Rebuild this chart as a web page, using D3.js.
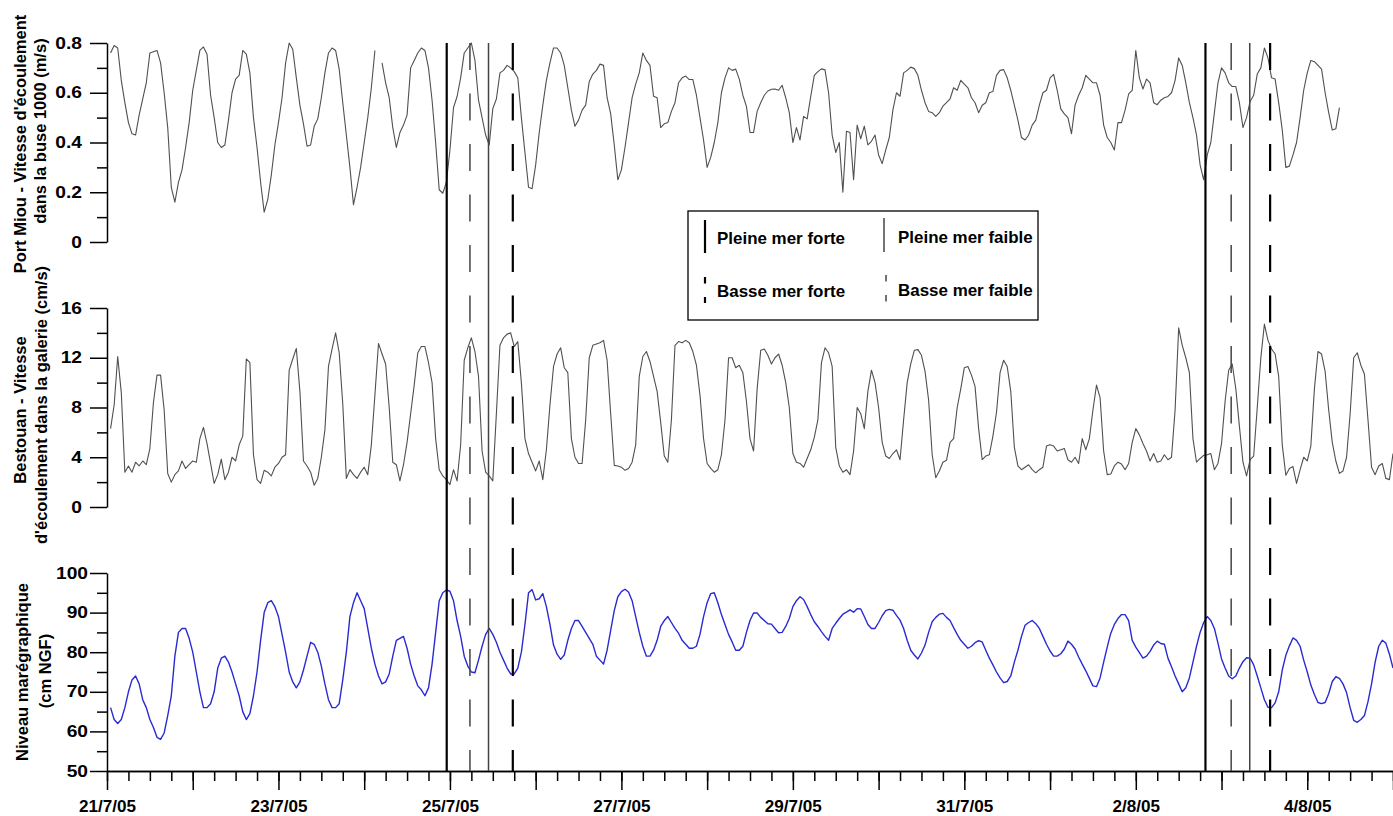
<!DOCTYPE html>
<html><head><meta charset="utf-8">
<script src="https://cdn.jsdelivr.net/npm/d3@7"></script>
<style>
html,body{margin:0;padding:0;background:#fff;}
svg{display:block;font-family:"Liberation Sans",Arial,sans-serif;}
</style></head><body>
<svg id="chart" width="1393" height="816"></svg>
<script>
// ---------- DATA (hourly samples starting 21/7/2005 01:00) ----------
const portMiou = [
0.76,0.79,0.78,0.65,0.56,0.48,0.435,0.43,0.51,0.575,
0.64,0.76,0.765,0.77,0.72,0.60,0.46,0.22,0.16,0.24,
0.29,0.38,0.48,0.61,0.69,0.77,0.784,0.755,0.59,0.50,
0.40,0.38,0.39,0.49,0.60,0.655,0.67,0.77,0.755,0.68,
0.50,0.38,0.24,0.12,0.17,0.27,0.39,0.48,0.58,0.72,
0.80,0.775,0.66,0.55,0.475,0.385,0.39,0.465,0.495,0.58,
0.68,0.76,0.78,0.77,0.695,0.56,0.43,0.30,0.15,0.22,
0.30,0.40,0.50,0.62,0.77,null,0.72,0.64,0.58,0.46,
0.38,0.44,0.47,0.51,0.70,0.73,0.76,0.78,0.77,0.70,
0.57,0.40,0.21,0.196,0.24,0.37,0.54,0.585,0.66,0.76,
0.78,0.80,0.73,0.57,0.50,0.43,0.39,0.536,0.575,0.68,
0.69,0.71,0.70,0.685,0.66,0.50,0.36,0.22,0.214,0.31,
0.44,0.55,0.65,0.72,0.78,0.78,0.76,0.71,0.62,0.53,
0.465,0.49,0.53,0.55,0.645,0.675,0.69,0.715,0.71,0.58,
0.515,0.39,0.25,0.29,0.38,0.48,0.58,0.635,0.68,0.76,
0.73,0.71,0.586,0.58,0.46,0.475,0.48,0.525,0.56,0.64,
0.66,0.667,0.653,0.653,0.59,0.50,0.41,0.30,0.34,0.40,
0.48,0.60,0.66,0.70,0.69,0.695,0.655,0.59,0.545,0.44,
0.44,0.525,0.56,0.59,0.607,0.614,0.615,0.61,0.63,0.58,
0.52,0.40,0.46,0.41,0.505,0.495,0.585,0.67,0.685,0.696,
0.692,0.60,0.43,0.36,0.40,0.20,0.445,0.44,0.25,0.47,
0.415,0.466,0.39,0.405,0.43,0.35,0.315,0.37,0.42,0.53,
0.60,0.586,0.68,0.69,0.703,0.697,0.67,0.61,0.56,0.525,
0.52,0.505,0.52,0.546,0.56,0.575,0.62,0.61,0.65,0.635,
0.62,0.58,0.56,0.52,0.55,0.56,0.60,0.605,0.67,0.69,
0.693,0.66,0.61,0.55,0.49,0.42,0.41,0.43,0.47,0.49,
0.55,0.60,0.61,0.66,0.674,0.61,0.535,0.515,0.50,0.435,
0.55,0.59,0.62,0.67,0.655,0.64,0.64,0.59,0.47,0.42,
0.40,0.37,0.48,0.48,0.53,0.595,0.61,0.77,0.66,0.615,
0.655,0.64,0.56,0.552,0.57,0.58,0.585,0.60,0.65,0.74,
0.71,0.64,0.56,0.50,0.43,0.31,0.25,0.35,0.40,0.52,
0.64,0.70,0.68,0.64,0.625,0.625,0.56,0.46,0.50,0.565,
0.59,0.675,0.70,0.78,0.74,0.66,0.655,0.56,0.45,0.30,
0.305,0.35,0.40,0.50,0.61,0.68,0.73,0.725,0.71,0.695,
0.60,0.52,0.45,0.455,0.54];

const bestouan = [
6.3,8.2,12.1,9.2,2.8,3.3,2.8,3.6,3.3,3.7,
3.4,4.7,8.4,10.6,10.6,7.8,2.7,2.0,2.6,2.9,
3.7,3.1,3.4,3.7,3.6,5.5,6.4,5.1,3.5,1.9,
2.6,3.85,2.2,2.8,4.0,3.7,5.0,5.7,11.9,11.6,
4.2,2.2,1.9,2.95,2.8,2.5,3.2,3.5,4.0,4.2,
11.0,11.9,12.75,9.3,3.7,3.3,2.8,1.75,2.3,4.0,
6.2,11.3,12.7,14.0,12.4,8.3,2.3,3.0,2.6,2.3,
2.8,3.2,2.6,5.0,9.0,13.15,12.3,11.5,8.0,3.6,
3.4,2.1,3.4,5.2,7.5,9.8,12.4,12.9,12.9,11.6,
10.0,5.5,3.0,2.5,2.2,1.8,3.0,2.1,5.0,11.8,
12.8,13.6,12.5,10.5,4.5,2.8,2.5,2.1,7.5,13.0,
13.6,13.9,14.0,12.9,13.3,10.0,5.5,4.3,3.6,2.9,
3.7,2.2,4.6,8.2,11.3,12.3,12.8,11.2,10.8,5.5,
4.0,3.5,3.5,7.0,12.0,13.0,13.1,13.2,13.4,11.8,
7.5,3.35,3.3,3.2,2.95,3.1,3.6,5.0,10.5,12.1,
12.5,11.7,10.5,9.3,6.8,4.1,3.6,7.0,13.0,13.3,
13.2,13.4,13.2,12.5,11.4,9.0,5.5,3.5,3.1,2.8,
3.0,4.2,7.0,12.0,12.0,11.2,11.4,10.8,8.5,5.5,
4.5,9.5,12.6,12.7,12.2,11.5,12.0,12.3,11.4,10.0,
8.0,4.3,3.6,3.5,3.2,3.9,4.6,5.6,7.0,11.6,
12.8,12.4,11.3,4.8,3.3,2.8,3.0,2.6,4.5,8.0,
7.5,6.3,9.3,11.0,10.0,8.0,5.2,4.1,3.9,4.3,
4.6,3.8,7.0,10.0,11.5,12.6,12.65,12.2,10.9,8.6,
4.2,2.35,2.9,3.6,3.75,5.2,5.5,8.0,9.5,11.2,
11.3,10.6,9.7,6.3,3.8,4.1,4.2,5.7,7.6,10.8,
11.8,11.3,9.3,4.8,3.3,3.0,3.2,3.4,3.0,2.75,
3.0,3.2,4.9,5.0,4.9,4.5,4.6,4.7,3.8,3.6,
4.0,3.5,5.5,4.6,5.5,7.8,9.8,8.8,4.5,2.6,
2.65,3.3,3.6,3.45,3.0,3.5,5.2,6.3,5.8,5.1,
4.5,3.7,4.3,3.6,3.7,4.2,3.8,4.0,7.8,14.4,
13.0,12.0,10.8,5.5,3.6,3.9,4.15,4.2,4.3,3.0,
3.5,5.1,8.5,11.0,11.5,9.5,6.5,3.6,2.5,3.8,
4.1,8.0,12.0,14.7,13.4,12.7,12.3,10.5,5.0,2.55,
3.1,3.25,1.9,3.0,4.0,3.7,4.9,9.5,12.5,12.3,
10.9,7.8,5.2,3.7,2.7,2.9,4.0,7.5,12.0,12.4,
11.4,10.7,7.0,3.2,2.6,3.3,3.5,2.3,2.2,4.3];

const niveau = [
66,63,62,63,66,70,73,74,72,68,
66,63,61,58.5,58,59.6,64,69,79,85,
86,86,83.5,80,75,70,66,66,67,70,
76,78.5,79,77.5,75,72,69,65,63,64.5,
69,75,83,90,92.5,93,91.5,89,84.5,80,
75,72.5,71,72.5,75.5,79,82.5,82,80,76.5,
72,68,66,66,67,73,80,89,92.5,95,
93,91,86,81,77,74,72,72.5,74.5,79,
83,83.5,84,81,77,74,71.5,70.5,69,71,
77,85,93,95,95.7,95.4,93,88,84,79,
76.5,75,74.8,78,81.5,84.5,86,84.5,82.5,80,
78,76,74.5,74.5,76,80,87,95,95.8,93.2,
93.5,94.8,91.5,87,81.8,79.5,78.2,79.3,83,86,
88,88,86.5,85,83.5,82,79,78,77,80.5,
85.5,90.5,94,95.3,95.9,95.2,93,89,85,81.5,
79,79,80.5,83,86.5,88,89,87.5,86,84.8,
83,82,81,81,81.5,84.5,89,92.5,94.8,95,
92.5,89.5,87,84.5,82.6,80.5,80.5,81.5,85,88,
89.9,89.9,88.8,88,87.2,87.1,86,84.9,85,86.5,
88.5,91.5,93,94,93.3,91.5,89.5,87.7,86.5,85.2,
84,83,86,87.3,88.5,89.6,90.1,90.7,90.1,91,
90.9,89,87,86,86,87.5,89.2,90.5,90.8,90.6,
89.3,88.1,86,83,80.5,79.3,78.3,79.8,81.8,85,
87.7,88.8,89.6,89.8,88.8,88,86.2,84.5,83,82,
81,81.5,82.4,82.9,82.6,80.5,78.5,76.8,75,73.5,
72.3,72.6,74,77.5,80.5,84,86.8,87.5,88,87.2,
86,84,82,80.3,79,79,79.6,80.8,82.8,82,
80.8,78.8,77,75.3,73.4,71.5,71.3,73.5,77.5,81.3,
84.8,87,88.5,89.5,89.5,88,83,81.3,79.9,78.5,
79,80.2,81.8,82.8,82.2,82,78.5,76.3,74,72,
70,71,73.5,77.5,81.5,85,87.5,89,88,86,
82.3,78.3,76,74,73.3,74,76,77.6,78.6,78.5,
76.8,74,71,68,66.1,66,67.2,70,75.5,79.2,
81.6,83.6,83,81.5,78,75,71.7,69.3,67.3,67,
67.3,69.5,72.6,73.8,73.4,72,69.8,66,62.8,62.3,
63,64,67.5,72,77.5,81.5,83,82.3,79.5,76];

const firstSample = new Date(2005, 6, 21, 1);
const xStart = new Date(2005, 6, 21, 0), xEnd = new Date(2005, 7, 5, 0);
const xLabelDates = [new Date(2005,6,21),new Date(2005,6,23),new Date(2005,6,25),new Date(2005,6,27),
  new Date(2005,6,29),new Date(2005,6,31),new Date(2005,7,2),new Date(2005,7,4)];

const topTicks = [0,0.2,0.4,0.6,0.8], topMinor = [0.1,0.3,0.5,0.7];
const midTicks = [0,4,8,12,16], midMinor = [2,6,10,14];
const botTicks = [50,60,70,80,90,100], botMinor = [55,65,75,85,95];

const eventTimes = [new Date(2005,6,24,23,6), new Date(2005,6,25,5,36), new Date(2005,6,25,10,48), new Date(2005,6,25,17,36),
  new Date(2005,7,2,19,30), new Date(2005,7,3,2,42), new Date(2005,7,3,7,54), new Date(2005,7,3,13,36)];
const eventTypes = ["PMforte","BMfaible","PMfaible","BMforte","PMforte","BMfaible","PMfaible","BMforte"];
const legendLabels = ["Pleine mer forte","Pleine mer faible","Basse mer forte","Basse mer faible"];
const legendTypes = ["PMforte","PMfaible","BMforte","BMfaible"];

// ---------- DRAWING ----------
const svg = d3.select("#chart");
const x = d3.scaleTime().domain([xStart, xEnd]).range([107, 1393]);
const yTop = d3.scaleLinear().domain([0, 0.8]).range([242, 43]);
const yMid = d3.scaleLinear().domain([0, 16]).range([507, 308]);
const yBot = d3.scaleLinear().domain([50, 100]).range([771, 573]);
const tAt = i => d3.timeHour.offset(firstSample, i);

const evStyle = {
  PMforte: {stroke:"#000", w:2.2, dash:null},
  PMfaible: {stroke:"#444", w:1.5, dash:null},
  BMforte: {stroke:"#000", w:2.2, dash:"27,23.5"},
  BMfaible: {stroke:"#444", w:1.5, dash:"27,23.5"}
};

// widen glyphs horizontally around their anchor point
function stretch(sel, s) {
  sel.each(function() {
    const t = d3.select(this);
    const tx = +t.attr("x") || 0, ty = +t.attr("y") || 0;
    t.attr("x", 0).attr("y", 0).attr("transform", `translate(${tx},${ty}) scale(${s},1)`);
  });
}

function yAxis(scale, major, minor, fmt, pad) {
  const gm = svg.append("g").attr("transform","translate(107,0)")
    .call(d3.axisLeft(scale).tickValues(minor).tickSize(10).tickSizeOuter(0).tickFormat(""));
  gm.select(".domain").remove();
  const g = svg.append("g").attr("transform","translate(107,0)")
    .call(d3.axisLeft(scale).tickValues(major).tickSize(17).tickSizeOuter(0).tickPadding(pad).tickFormat(fmt));
  [gm, g].forEach(s => {
    s.selectAll("line").attr("stroke","#000").attr("stroke-width",1.5);
    s.selectAll(".domain").attr("stroke","#000").attr("stroke-width",1.5);
    s.selectAll("text").attr("fill","#000").style("font-size","16px").style("font-weight","bold");
  });
  stretch(g.selectAll("text"), 1.2);
}
yAxis(yTop, topTicks, topMinor, d => d === 0 ? "0" : d3.format(".1f")(d), 8);
yAxis(yMid, midTicks, midMinor, d3.format("d"), 8);
yAxis(yBot, botTicks, botMinor, d3.format("d"), 2);

// x axis
const gx1 = svg.append("g").attr("transform","translate(0,771)")
  .call(d3.axisBottom(x).ticks(d3.timeHour.every(6)).tickSize(10).tickSizeOuter(0).tickFormat(""));
const gx2 = svg.append("g").attr("transform","translate(0,771)")
  .call(d3.axisBottom(x).ticks(d3.timeDay.every(1)).tickSize(19).tickSizeOuter(0).tickFormat(""));
const gx3 = svg.append("g").attr("transform","translate(0,771)")
  .call(d3.axisBottom(x).tickValues(xLabelDates).tickSize(0).tickSizeOuter(0).tickPadding(30).tickFormat(d3.timeFormat("%-d/%-m/%y")));
gx3.select(".domain").remove();
[gx1, gx2, gx3].forEach(s => {
  s.selectAll("line").attr("stroke","#000").attr("stroke-width",1.5);
  s.selectAll(".domain").attr("stroke","#000").attr("stroke-width",1.5);
  s.selectAll("text").attr("fill","#000").style("font-size","16px").style("font-weight","bold");
});
stretch(gx3.selectAll("text"), 1.07);

// series
function drawSeries(values, yScale, color, width) {
  const line = d3.line().defined(d => d != null).x((d,i) => x(tAt(i))).y(d => yScale(d));
  svg.append("path").datum(values).attr("d", line)
    .attr("fill","none").attr("stroke",color).attr("stroke-width",width).attr("stroke-linejoin","round");
}
drawSeries(portMiou, yTop, "#505050", 1.1);
drawSeries(bestouan, yMid, "#505050", 1.1);
drawSeries(niveau, yBot, "#2a2ad2", 1.4);

// tide event lines
svg.append("g").selectAll("line").data(eventTimes).join("line")
  .attr("x1", d => x(d)).attr("x2", d => x(d))
  .attr("y1", yTop.range()[1]).attr("y2", yBot.range()[0])
  .attr("stroke", (d,i) => evStyle[eventTypes[i]].stroke)
  .attr("stroke-width", (d,i) => evStyle[eventTypes[i]].w)
  .attr("stroke-dasharray", (d,i) => evStyle[eventTypes[i]].dash);

// legend
const lg = svg.append("g");
lg.append("rect").attr("x",688).attr("y",211).attr("width",350).attr("height",109)
  .attr("fill","#fff").attr("stroke","#000").attr("stroke-width",1.3);
const legPos = [{lx:705,tx:717,y0:220,y1:253,ty:244},{lx:884,tx:898,y0:218,y1:252,ty:243},
                {lx:705,tx:717,y0:277,y1:303,ty:297},{lx:886,tx:898,y0:275,y1:303,ty:296}];
legendLabels.forEach((lab, i) => {
  const st = evStyle[legendTypes[i]], p = legPos[i];
  lg.append("line").attr("x1",p.lx).attr("x2",p.lx).attr("y1",p.y0).attr("y2",p.y1)
    .attr("stroke",st.stroke).attr("stroke-width",st.w)
    .attr("stroke-dasharray", st.dash ? "6.5,13.5" : null);
  const t = lg.append("text").attr("x",p.tx).attr("y",p.ty).text(lab)
    .style("font-size","16px").style("font-weight","bold").attr("fill","#000");
  stretch(t, 1.06);
});

// axis titles
const titles = [
  {t:"Port Miou - Vitesse d'écoulement", x:20, y:144},
  {t:"dans la buse 1000 (m/s)", x:40, y:131},
  {t:"Bestouan - Vitesse", x:20, y:410},
  {t:"d'écoulement dans la galerie (cm/s)", x:41, y:405},
  {t:"Niveau marégraphique", x:22, y:672},
  {t:"(cm NGF)", x:45, y:671}
];
titles.forEach(o => {
  svg.append("text").attr("transform",`translate(${o.x},${o.y}) rotate(-90)`)
    .attr("text-anchor","middle").attr("dominant-baseline","central")
    .style("font-size","16.5px").style("font-weight","bold").attr("fill","#000").text(o.t);
});
</script>
</body></html>
